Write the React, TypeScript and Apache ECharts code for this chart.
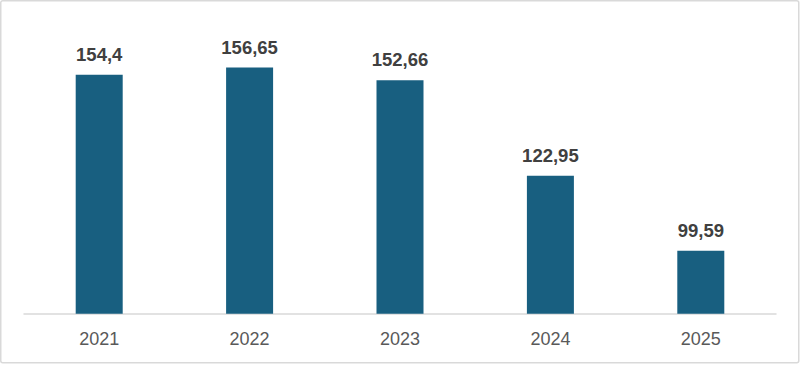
import React, { useEffect, useRef } from "react";
import * as echarts from "echarts";

const categories = ["2021", "2022", "2023", "2024", "2025"];
const values = [154.4, 156.65, 152.66, 122.95, 99.59];
const valueLabels = ["154,4", "156,65", "152,66", "122,95", "99,59"];

export default function App() {
  const ref = useRef<HTMLDivElement>(null);
  useEffect(() => {
    if (!ref.current) return;
    const chart = echarts.init(ref.current, null, { renderer: "svg" });
    chart.setOption({
      animation: false,
      backgroundColor: "#ffffff",
      grid: { left: 24, right: 24, top: 56.8, bottom: 51.3, containLabel: false },
      graphic: [
        {
          type: "rect",
          shape: { x: 0.75, y: 0.75, width: 798, height: 362, r: 2 },
          style: { fill: "none", stroke: "#d9d9d9", lineWidth: 1.5 },
          silent: true,
        },
      ],
      xAxis: {
        type: "category",
        data: categories,
        axisLine: { lineStyle: { color: "#d9d9d9", width: 1.5 } },
        axisTick: { show: false },
        axisLabel: {
          color: "#595959",
          fontSize: 18,
          fontFamily: "Liberation Sans, Arial, sans-serif",
          margin: 16,
        },
      },
      yAxis: {
        type: "value",
        min: 80,
        max: 160,
        show: false,
        splitLine: { show: false },
      },
      series: [
        {
          type: "bar",
          data: values,
          barWidth: 47,
          itemStyle: { color: "#185f80" },
          label: {
            show: true,
            position: "top",
            distance: 11,
            color: "#404040",
            fontSize: 18.5,
            fontWeight: "bold",
            fontFamily: "Liberation Sans, Arial, sans-serif",
            formatter: (p: any) => valueLabels[p.dataIndex],
          },
        },
      ],
    });
    return () => chart.dispose();
  }, []);
  return (
    <div
      ref={ref}
      style={{ position: "fixed", left: 0, top: 0, width: 800, height: 365 }}
    />
  );
}
